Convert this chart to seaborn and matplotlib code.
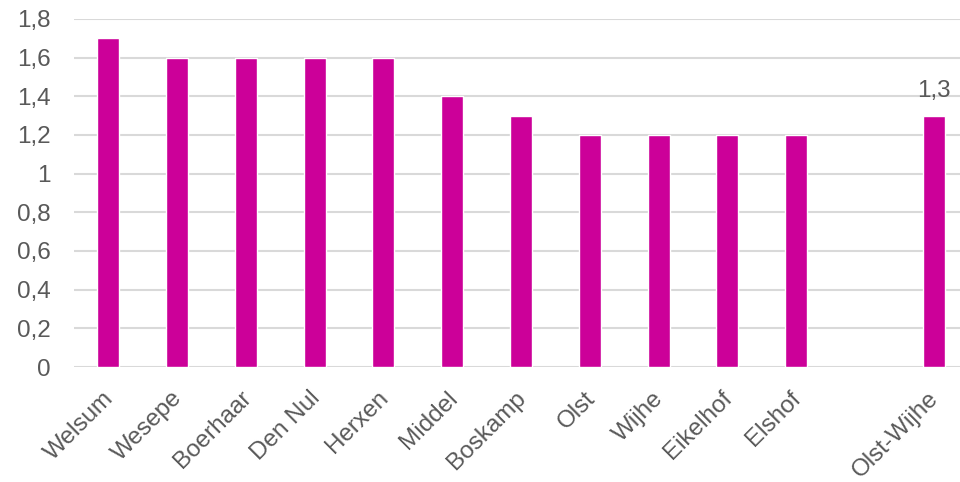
import matplotlib
matplotlib.use("Agg")
import matplotlib.pyplot as plt
import matplotlib.transforms as mtransforms
import seaborn as sns
import pandas as pd
import numpy as np

categories = ["Welsum", "Wesepe", "Boerhaar", "Den Nul", "Herxen", "Middel",
              "Boskamp", "Olst", "Wijhe", "Eikelhof", "Elshof", " ", "Olst-Wijhe"]
values = [1.7, 1.6, 1.6, 1.6, 1.6, 1.4, 1.3, 1.2, 1.2, 1.2, 1.2, np.nan, 1.3]
y_ticks = [0, 0.2, 0.4, 0.6, 0.8, 1.0, 1.2, 1.4, 1.6, 1.8]
y_tick_labels = ["0", "0,2", "0,4", "0,6", "0,8", "1", "1,2", "1,4", "1,6", "1,8"]
annot_label = "1,3"

sns.set_theme(style="white")
plt.rcParams['font.family'] = ['Liberation Sans', 'DejaVu Sans']

bar_color = "#CC0099"
text_color = "#595959"
grid_color = "#D9D9D9"
fs = 17.5

df = pd.DataFrame({"cat": categories, "val": values})

fig = plt.figure(figsize=(9.6, 4.82), dpi=100)
ax = fig.add_axes([74 / 960, 1 - 367 / 482, (968 - 74) / 960, (367 - 19) / 482])

sns.barplot(data=df, x="cat", y="val", order=categories, color=bar_color,
            saturation=1, width=0.32, ax=ax)

ax.set_ylim(0, 1.8)
ax.set_xlim(-0.5, len(categories) - 0.5)
ax.set_yticks(y_ticks)
ax.set_yticklabels(y_tick_labels)
ax.yaxis.grid(True, color=grid_color, linewidth=1.5)
ax.set_axisbelow(True)
for s in ax.spines.values():
    s.set_visible(False)
ax.set_xlabel("")
ax.set_ylabel("")
ax.tick_params(axis="both", length=0, labelsize=fs, colors=text_color)
ax.tick_params(axis="y", pad=16.5)
ax.tick_params(axis="x", pad=8)
offset = mtransforms.ScaledTranslation(-6 / 100, -9 / 100, fig.dpi_scale_trans)
for lab in ax.get_xticklabels():
    lab.set_rotation(45)
    lab.set_ha("right")
    lab.set_rotation_mode("anchor")
    lab.set_color(text_color)
    lab.set_transform(lab.get_transform() + offset)

ax.text(12, 1.3 + 0.098, annot_label, ha="center", va="baseline",
        fontsize=fs, color=text_color)

fig.savefig("out.png", dpi=100)
